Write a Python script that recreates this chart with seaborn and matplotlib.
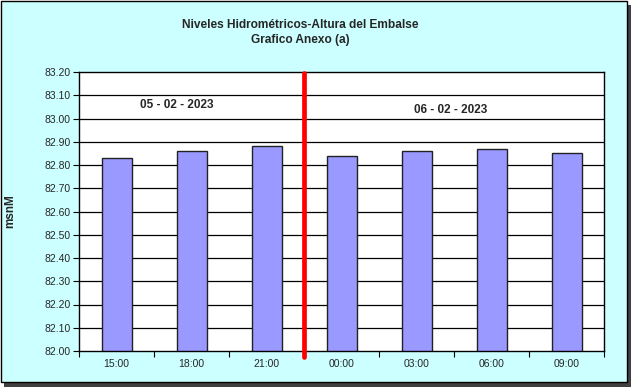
import matplotlib
matplotlib.use("Agg")
import matplotlib.pyplot as plt
import seaborn as sns
import pandas as pd
import numpy as np
from matplotlib.patches import Rectangle

hours = ["15:00", "18:00", "21:00", "00:00", "03:00", "06:00", "09:00"]
levels = [82.83, 82.86, 82.88, 82.84, 82.86, 82.87, 82.85]
date_labels = ["05 - 02 - 2023", "06 - 02 - 2023"]
y_ticks = [82.00, 82.10, 82.20, 82.30, 82.40, 82.50, 82.60, 82.70, 82.80, 82.90, 83.00, 83.10, 83.20]

sns.set_theme(style="white")
plt.rcParams['font.family'] = ['Liberation Sans', 'DejaVu Sans']

W, H = 633, 387
fig = plt.figure(figsize=(W / 100, H / 100), dpi=100)
fig.patch.set_facecolor("white")

# frame with shadow
fig.add_artist(Rectangle((4 / W, 0), 627 / W, (H - 5) / H, transform=fig.transFigure,
                         facecolor="#404040", edgecolor="none", zorder=-3))
fig.add_artist(Rectangle((0.5 / W, 5 / H), 626 / W, (H - 5.5) / H, transform=fig.transFigure,
                         facecolor="#CCFFFF", edgecolor="black", linewidth=1.0, zorder=-2))

ax = fig.add_axes([79 / W, 36 / H, 525 / W, 279 / H])
df = pd.DataFrame({"hora": hours, "nivel": levels})
sns.barplot(data=df, x="hora", y="nivel", order=hours, color="#9999FF",
            width=0.4, edgecolor="#222222", linewidth=1.0, saturation=1, ax=ax)

ax.set_facecolor("white")
ax.set_ylim(y_ticks[0], y_ticks[-1])
ax.set_xlim(-0.5, len(hours) - 0.5)
ax.set_yticks(y_ticks)
ax.set_yticklabels([f"{v:.2f}" for v in y_ticks], fontsize=7.5)
for v in y_ticks[1:-1]:
    ax.axhline(v, color="black", linewidth=0.9, zorder=0)

ax.set_xticks(np.arange(len(hours) + 1) - 0.5)
ax.set_xticklabels([""] * (len(hours) + 1))
ax.set_xticks(np.arange(len(hours)), minor=True)
ax.set_xticklabels(hours, minor=True, fontsize=7.5)
ax.tick_params(axis="x", which="major", direction="out", length=4, width=0.8, color="black", bottom=True)
ax.tick_params(axis="x", which="minor", length=0, pad=6, bottom=True)
ax.tick_params(axis="y", direction="out", length=4, width=0.8, color="black", left=True, pad=2)

for s in ax.spines.values():
    s.set_color("black")
    s.set_linewidth(1.0)

ax.set_xlabel("")
ax.set_ylabel("")

ax.axvline(2.5, ymin=-0.02, ymax=0.995, color="#FF0000", linewidth=3.4, clip_on=False, zorder=5)

ax.text(0.8, 83.058, date_labels[0], ha="center", va="center", fontsize=8.5, fontweight="bold")
ax.text(4.45, 83.037, date_labels[1], ha="center", va="center", fontsize=8.5, fontweight="bold")

fig.text(300 / W, 1 - 25 / H, "Niveles Hidrométricos-Altura del Embalse", ha="center", va="center",
         fontsize=8.6, fontweight="bold")
fig.text(300 / W, 1 - 40 / H, "Grafico Anexo (a)", ha="center", va="center",
         fontsize=8.6, fontweight="bold")
fig.text(10 / W, 1 - 211 / H, "msnM", rotation=90, ha="center", va="center",
         fontsize=8.5, fontweight="bold")

fig.savefig("out.png", dpi=100)
